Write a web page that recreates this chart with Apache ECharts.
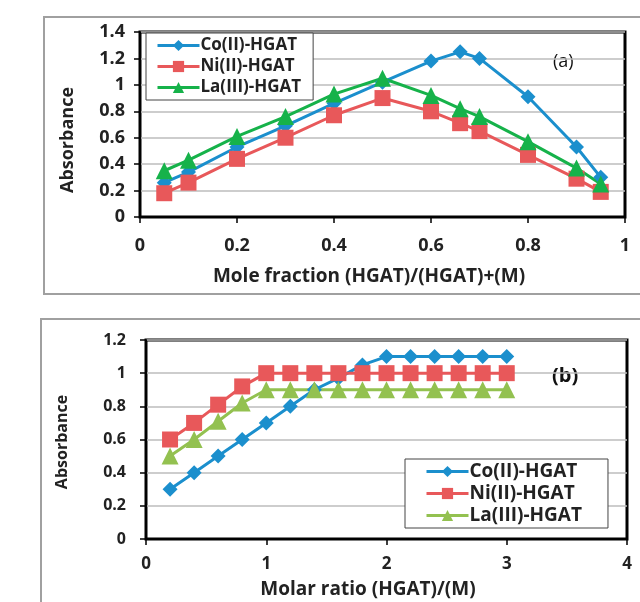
<!DOCTYPE html>
<html>
<head>
<meta charset="utf-8">
<script src="https://cdn.jsdelivr.net/npm/echarts@6/dist/echarts.min.js"></script>
<style>
  html, body { margin: 0; padding: 0; background: #fff; }
  #chart { width: 640px; height: 602px; }
</style>
</head>
<body>
<div id="chart"></div>
<script>
// panel (a): continuous variation (Job's method)
var moleFraction = [0.05, 0.1, 0.2, 0.3, 0.4, 0.5, 0.6, 0.66, 0.7, 0.8, 0.9, 0.95];
var coA = [0.26, 0.34, 0.53, 0.69, 0.86, 1.02, 1.18, 1.25, 1.20, 0.91, 0.53, 0.30];
var niA = [0.18, 0.26, 0.44, 0.60, 0.77, 0.90, 0.80, 0.71, 0.65, 0.47, 0.29, 0.19];
var laA = [0.35, 0.43, 0.61, 0.76, 0.93, 1.05, 0.92, 0.82, 0.76, 0.57, 0.37, 0.25];

// panel (b): molar ratio method
var molarRatio = [0.2, 0.4, 0.6, 0.8, 1.0, 1.2, 1.4, 1.6, 1.8, 2.0, 2.2, 2.4, 2.6, 2.8, 3.0];
var coB = [0.3, 0.4, 0.5, 0.6, 0.7, 0.8, 0.9, 0.97, 1.05, 1.1, 1.1, 1.1, 1.1, 1.1, 1.1];
var niB = [0.6, 0.7, 0.81, 0.92, 1.0, 1.0, 1.0, 1.0, 1.0, 1.0, 1.0, 1.0, 1.0, 1.0, 1.0];
var laB = [0.5, 0.6, 0.71, 0.82, 0.9, 0.9, 0.9, 0.9, 0.9, 0.9, 0.9, 0.9, 0.9, 0.9, 0.9];

var names = ['Co(II)-HGAT', 'Ni(II)-HGAT', 'La(III)-HGAT'];

var blue = '#1b8fcd', red = '#e8585a', greenA = '#16b24a', greenB = '#93c150';
var font = '"Open Sans", Lato, sans-serif';

function pairs(xs, ys) {
  return xs.map(function (x, i) { return [x, ys[i]]; });
}

function mkSeries(name, idx, xs, ys, color, symbol, size) {
  return {
    name: name, type: 'line', xAxisIndex: idx, yAxisIndex: idx,
    data: pairs(xs, ys),
    symbol: symbol, symbolSize: size,
    itemStyle: { color: color },
    lineStyle: { color: color, width: 3 },
    animation: false
  };
}

function mkX(idx, max, lsize, margin) {
  return {
    type: 'value', gridIndex: idx, min: 0, max: max, interval: max === 1 ? 0.2 : 1,
    axisLine: { lineStyle: { color: '#000', width: 2 } },
    axisTick: { show: true, length: 6, lineStyle: { color: '#000', width: 1.5 } },
    axisLabel: { fontFamily: font, fontWeight: 'bold', fontSize: lsize, color: '#222', margin: margin, hideOverlap: false },
    splitLine: { show: false }
  };
}

function mkY(idx, max, lsize, margin) {
  return {
    type: 'value', gridIndex: idx, min: 0, max: max, interval: 0.2,
    axisLine: { show: true, lineStyle: { color: '#000', width: 2 } },
    axisTick: { show: true, length: 6, lineStyle: { color: '#000', width: 1.5 } },
    axisLabel: { fontFamily: font, fontWeight: 'bold', fontSize: lsize, color: '#222', margin: margin,
                 hideOverlap: false, showMinLabel: true, showMaxLabel: true },
    splitLine: { show: true, lineStyle: { color: '#bdbdbd', width: 1.5 } }
  };
}

function mkLegend(left, top, green, size, gap, pad) {
  var cols = [blue, red, green];
  return {
    orient: 'vertical', left: left, top: top,
    itemWidth: 42, itemHeight: 14, itemGap: gap,
    padding: pad,
    borderColor: '#444', borderWidth: 1, backgroundColor: '#fff',
    textStyle: { fontFamily: font, fontWeight: 'bold', fontSize: size, color: '#222', padding: [0, 0, 0, -4] },
    data: names.map(function (n, i) {
      return { name: n, itemStyle: { color: cols[i] }, lineStyle: { color: cols[i], width: 3 } };
    })
  };
}

function title(text, x, y, size, rotate) {
  return { type: 'text', x: x, y: y, rotation: rotate ? Math.PI / 2 : 0,
           style: { text: text, fontFamily: font, fontWeight: 'bold', fontSize: size, fill: '#222',
                    align: 'center', verticalAlign: 'middle' } };
}

var chart = echarts.init(document.getElementById('chart'));
chart.setOption({
  backgroundColor: '#fff',
  animation: false,
  graphic: [
    { type: 'rect', shape: { x: 44, y: 17, width: 620, height: 277 }, style: { fill: 'none', stroke: '#a0a0a0', lineWidth: 2 }, z: -10 },
    { type: 'rect', shape: { x: 41, y: 319, width: 620, height: 320 }, style: { fill: 'none', stroke: '#a0a0a0', lineWidth: 2 }, z: -10 },
    { type: 'text', left: 553, top: 53, style: { text: '(a)', fontFamily: font, fontSize: 18, fill: '#111' } },
    { type: 'text', left: 552, top: 366, style: { text: '(b)', fontFamily: font, fontWeight: 'bold', fontSize: 20, fill: '#111' } },
    title('Absorbance', 68, 140, 18, true),
    title('Absorbance', 62, 442, 16, true),
    title('Mole fraction (HGAT)/(HGAT)+(M)', 369, 277, 19, false),
    title('Molar ratio (HGAT)/(M)', 368, 590, 19, false)
  ],
  grid: [
    { left: 140, right: 15, top: 32, height: 185, show: true, borderColor: '#000', borderWidth: 3, backgroundColor: 'transparent' },
    { left: 146, right: 13, top: 340, height: 199, show: true, borderColor: '#000', borderWidth: 3, backgroundColor: 'transparent' }
  ],
  xAxis: [
    mkX(0, 1, 18, 20),
    mkX(1, 4, 17, 17)
  ],
  yAxis: [
    mkY(0, 1.4, 18, 15),
    mkY(1, 1.2, 16, 20)
  ],
  legend: [
    mkLegend(146, 33, greenA, 17, 4, [4, 12, 4, 10]),
    mkLegend(405, 459, greenB, 19, 3, [3, 26, 3, 20])
  ],
  series: [
    mkSeries(names[0], 0, moleFraction, coA, blue, 'diamond', 15),
    mkSeries(names[1], 0, moleFraction, niA, red, 'rect', 16),
    mkSeries(names[2], 0, moleFraction, laA, greenA, 'triangle', 17),
    mkSeries(names[0], 1, molarRatio, coB, blue, 'diamond', 15),
    mkSeries(names[1], 1, molarRatio, niB, red, 'rect', 16),
    mkSeries(names[2], 1, molarRatio, laB, greenB, 'triangle', 17)
  ]
});
</script>
</body>
</html>
